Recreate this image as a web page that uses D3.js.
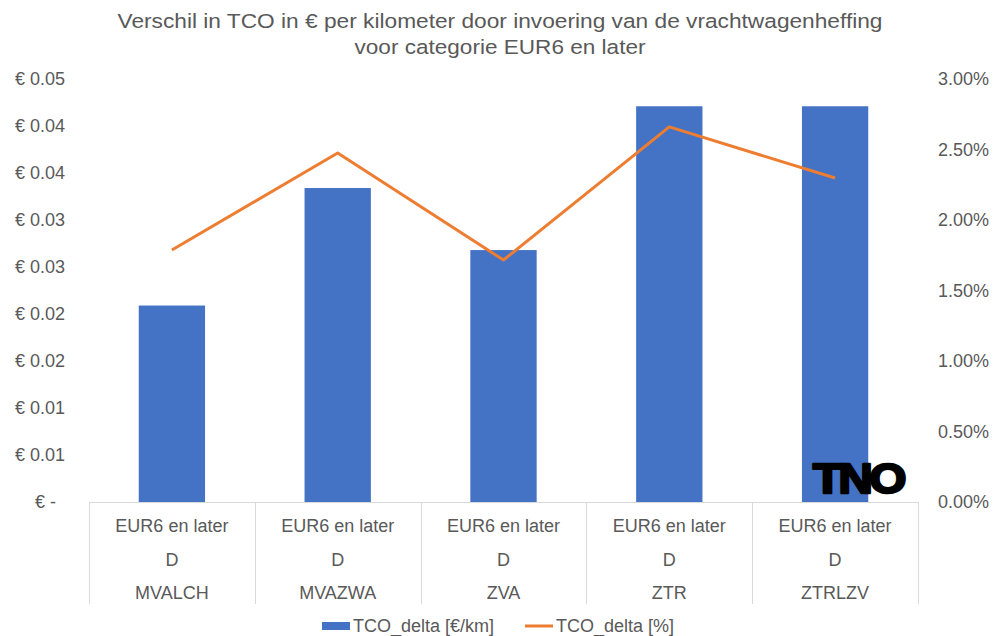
<!DOCTYPE html>
<html><head><meta charset="utf-8">
<script src="https://cdn.jsdelivr.net/npm/d3@7"></script>
<style>body{margin:0;background:#fff;} text{font-family:"Liberation Sans",Arial,sans-serif;}</style>
</head><body><svg id="c" width="1000" height="636"></svg>
<script>
const categories = ["MVALCH","MVAZWA","ZVA","ZTR","ZTRLZV"];
const level1 = ["EUR6 en later","EUR6 en later","EUR6 en later","EUR6 en later","EUR6 en later"];
const level2 = ["D","D","D","D","D"];
const deltaEur = [0.0209, 0.0334, 0.0268, 0.0421, 0.0421];
const deltaPct = [0.01787, 0.02475, 0.01716, 0.0266, 0.02298];
const leftTicks = [0,0.005,0.01,0.015,0.02,0.025,0.03,0.035,0.04,0.045];
const rightTicks = [0,0.005,0.01,0.015,0.02,0.025,0.03];
const titleLines = ["Verschil in TCO in € per kilometer door invoering van de vrachtwagenheffing","voor categorie EUR6 en later"];
const legendLabels = ["TCO_delta [€/km]","TCO_delta [%]"];

const svg = d3.select("#c");
const L=89, R=918, T=79, B=502;
const xc = d3.scaleBand().domain(categories).range([L,R]);
const yL = d3.scaleLinear().domain([0,0.045]).range([B,T]);
const yR = d3.scaleLinear().domain([0,0.03]).range([B,T]);
const grey="#595959";

// title
const titleW = [765, 291];
svg.selectAll(".title").data(titleLines).enter().append("text")
  .attr("x",500).attr("y",(d,i)=>28+i*26).attr("text-anchor","middle")
  .attr("font-size",20.5).attr("fill",grey).text(d=>d)
  .attr("textLength",(d,i)=>titleW[i]).attr("lengthAdjust","spacingAndGlyphs");

// bars
svg.selectAll(".bar").data(categories).enter().append("rect")
  .attr("x",d=>xc(d)+xc.bandwidth()*0.3).attr("width",xc.bandwidth()*0.4)
  .attr("y",(d,i)=>yL(deltaEur[i])).attr("height",(d,i)=>B-yL(deltaEur[i]))
  .attr("fill","#4472C4");

// line
const line = d3.line().x((d,i)=>xc(categories[i])+xc.bandwidth()/2).y(d=>yR(d));
svg.append("path").datum(deltaPct).attr("d",line).attr("fill","none")
  .attr("stroke","#ED7D31").attr("stroke-width",3).attr("stroke-linejoin","round");

// left axis
const fmt = d3.format(".2f");
svg.selectAll(".lt").data(leftTicks).enter().append("text")
  .attr("x",d=>d===0?56:65).attr("y",d=>yL(d)+6).attr("text-anchor","end")
  .attr("font-size",18).attr("fill",grey)
  .text(d=>d===0?"€ -":"€ "+fmt(d+1e-9));

// right axis
const pf = d3.format(".2%");
svg.selectAll(".rt").data(rightTicks).enter().append("text")
  .attr("x",989).attr("y",d=>yR(d)+6).attr("text-anchor","end")
  .attr("font-size",18).attr("fill",grey).text(d=>pf(d));

// category axis
svg.append("line").attr("x1",L).attr("x2",R).attr("y1",B+0.5).attr("y2",B+0.5).attr("stroke","#D9D9D9");
const seps = categories.map(d=>xc(d)).concat([R]);
svg.selectAll(".sep").data(seps).enter().append("line")
  .attr("x1",d=>Math.round(d)+0.5).attr("x2",d=>Math.round(d)+0.5).attr("y1",B).attr("y2",604)
  .attr("stroke","#D9D9D9");
[level1,level2,categories].forEach((arr,r)=>{
  svg.selectAll(".cl"+r).data(arr).enter().append("text")
    .attr("x",(d,i)=>xc(categories[i])+xc.bandwidth()/2).attr("y",[532,566,599][r])
    .attr("text-anchor","middle").attr("font-size",18).attr("fill",grey).text(d=>d);
});

// TNO logo
svg.append("text").attr("x",858).attr("y",493).attr("text-anchor","middle")
  .attr("font-family","DejaVu Sans").attr("font-weight","bold").attr("font-size",42)
  .attr("letter-spacing",-3).attr("fill","#000").attr("stroke","#000").attr("stroke-width",2.5)
  .attr("stroke-linejoin","round")
  .attr("textLength",90).attr("lengthAdjust","spacingAndGlyphs").text("TNO");

// legend
svg.append("rect").attr("x",322).attr("y",622).attr("width",28).attr("height",8).attr("fill","#4472C4");
svg.append("text").attr("x",353).attr("y",632).attr("font-size",18).attr("fill",grey).text(legendLabels[0]);
svg.append("line").attr("x1",525).attr("x2",553).attr("y1",626).attr("y2",626).attr("stroke","#ED7D31").attr("stroke-width",3);
svg.append("text").attr("x",556).attr("y",632).attr("font-size",18).attr("fill",grey).text(legendLabels[1]);
</script></body></html>
